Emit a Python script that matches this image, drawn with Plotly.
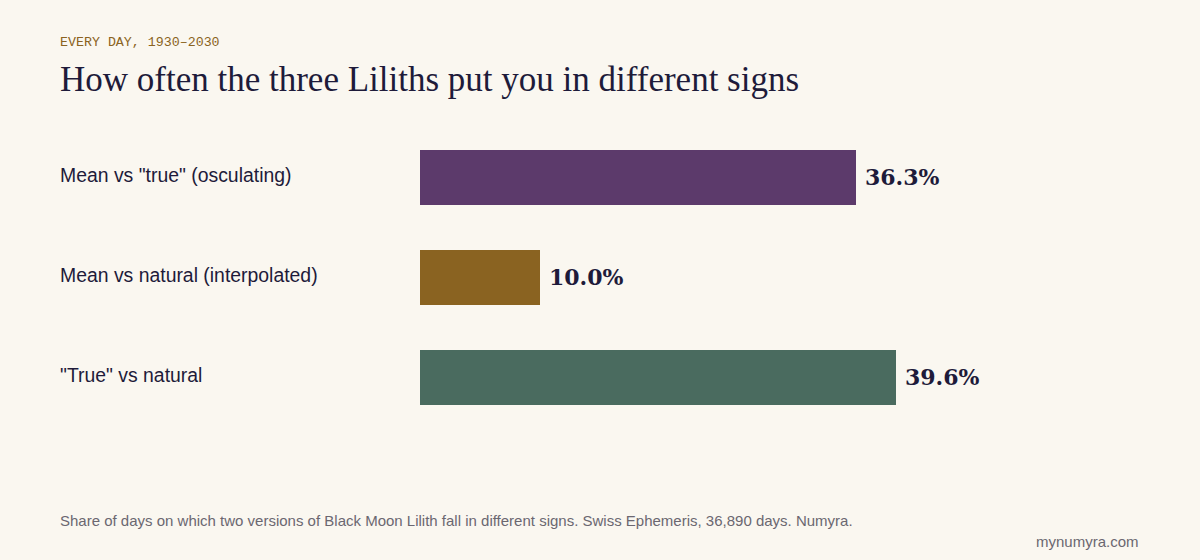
import plotly.graph_objects as go

categories = ['Mean vs "true" (osculating)', 'Mean vs natural (interpolated)', '"True" vs natural']
values = [36.3, 10.0, 39.6]
value_labels = ["36.3%", "10.0%", "39.6%"]
colors = ["#5C3A6B", "#8A6321", "#4A6B5F"]

BG = "#FAF7F0"
INK = "#1E1B3A"

W, H = 1200, 560
L, R = 420, 60
TOP, PH = 127, 300
plot_w = W - L - R

def px_to_paper_x(px):
    return (px - L) / plot_w

fig = go.Figure()
fig.add_trace(go.Bar(
    x=values, y=categories, orientation="h",
    marker=dict(color=colors, line=dict(width=0)),
    width=0.55, hoverinfo="skip",
))

annotations = []
for cat, v, lab in zip(categories, values, value_labels):
    annotations.append(dict(
        x=v, y=cat, xref="x", yref="y", text=lab, showarrow=False,
        xanchor="left", yanchor="middle", xshift=7, yshift=0,
        font=dict(family="DejaVu Serif", size=22, color=INK, weight="bold"),
    ))
    annotations.append(dict(
        x=px_to_paper_x(58), y=cat, xref="paper", yref="y", text=cat, showarrow=False,
        xanchor="left", yanchor="middle", yshift=2,
        font=dict(family="Liberation Sans", size=19.4, color=INK),
    ))

def top_text(text, px_x, px_y, font, xanchor="left"):
    return dict(
        x=px_to_paper_x(px_x), y=1 + (TOP - px_y) / PH, xref="paper", yref="paper",
        text=text, showarrow=False, xanchor=xanchor, yanchor="middle", font=font,
    )

annotations.append(top_text("EVERY DAY, 1930\u20132030", 58, 43,
                            dict(family="Liberation Mono", size=13.3, color="#8A6321")))
annotations.append(top_text("How often the three Liliths put you in different signs", 58, 80,
                            dict(family="Liberation Serif", size=35, color=INK)))
annotations.append(top_text("Share of days on which two versions of Black Moon Lilith fall in different signs. Swiss Ephemeris, 36,890 days. Numyra.",
                            58, 520, dict(family="Liberation Sans", size=15, color="#6B6770")))
annotations.append(top_text("mynumyra.com", 1141, 541,
                            dict(family="Liberation Sans", size=15, color="#6B6770"), xanchor="right"))

fig.update_layout(
    width=W, height=H,
    margin=dict(l=L, r=R, t=TOP, b=H - TOP - PH, pad=0),
    paper_bgcolor=BG, plot_bgcolor=BG,
    showlegend=False,
    xaxis=dict(range=[0, 59.9], visible=False, fixedrange=True),
    yaxis=dict(categoryorder="array", categoryarray=categories, autorange=False,
               range=[2.5, -0.5], visible=False, fixedrange=True),
    annotations=annotations,
    bargap=0,
)

fig.write_html("out.html", config={"displayModeBar": False})
